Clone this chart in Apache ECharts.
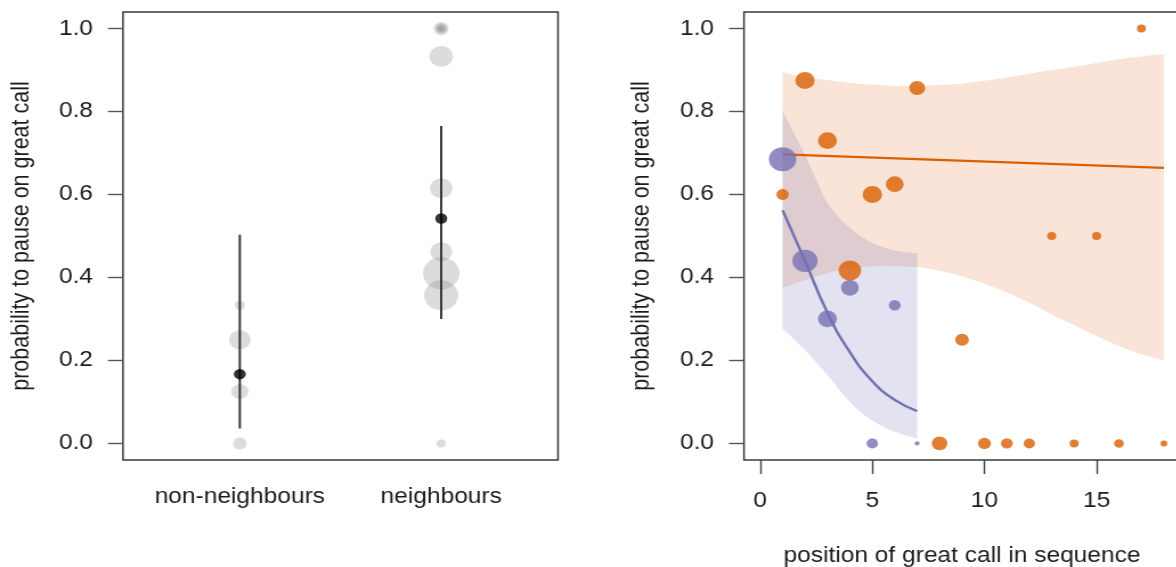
<!DOCTYPE html>
<html>
<head>
<meta charset="utf-8">
<script src="https://cdn.jsdelivr.net/npm/echarts@6/dist/echarts.min.js"></script>
<style>
  html, body { margin: 0; padding: 0; background: #fff; overflow: hidden; }
  #chart { width: 1032px; height: 567px; transform: scaleX(1.14); transform-origin: 0 0; }
</style>
</head>
<body>
<div id="chart"></div>
<script>
// Figure is drawn slightly wide: everything is stretched horizontally by this factor.
const SX = 1.14;

// ---- Left panel: pause probability per individual, by group ----
const groups = ['non-neighbours', 'neighbours'];
const propNon = [0, 0.125, 0.25, 0.333];
const callsNon = [16, 25, 40, 9];
const propNei = [1, 1, 1, 1, 0.933, 0.615, 0.462, 0.41, 0.357, 0];
const callsNei = [19, 11, 5, 3, 48, 44, 40, 114, 100, 7];
const groupMean = [0.167, 0.542];
const groupLower = [0.036, 0.30];
const groupUpper = [0.503, 0.765];

// ---- Right panel: pause probability by position in sequence ----
const posPurple = [1, 2, 3, 4, 5, 6, 7];
const propPurple = [0.685, 0.44, 0.30, 0.375, 0, 0.333, 0];
const callsPurple = [64, 54, 31, 27, 11, 12, 2];

const posOrange = [1, 2, 3, 4, 5, 6, 7, 8, 9, 10, 11, 12, 13, 14, 15, 16, 17, 18];
const propOrange = [0.6, 0.875, 0.73, 0.417, 0.6, 0.625, 0.857, 0, 0.25, 0, 0, 0, 0.5, 0, 0.5, 0, 1, 0];
const callsOrange = [13, 32, 31, 44, 32, 27, 22, 21, 16, 14, 12, 11, 7, 7, 7, 8, 7, 4];

// model fits with 95% bands
const fitPosPurple = [1, 2, 3, 4, 5, 6, 7];
const fitPurple = [0.562, 0.44, 0.315, 0.22, 0.15, 0.105, 0.078];
const bandPurpleHi = [0.80, 0.695, 0.58, 0.52, 0.483, 0.465, 0.458];
const bandPurpleLo = [0.277, 0.225, 0.165, 0.1, 0.055, 0.028, 0.012];

const fitPosOrange = [1, 18];
const fitOrange = [0.697, 0.664];
const bandPosOrange = [1, 2, 3, 4, 5, 6, 7, 8, 9, 10, 11, 12, 13, 14, 15, 16, 17, 18];
const bandOrangeHi = [0.895, 0.882, 0.876, 0.869, 0.865, 0.862, 0.862, 0.864, 0.867, 0.874, 0.882, 0.891, 0.9, 0.908, 0.917, 0.926, 0.933, 0.939];
const bandOrangeLo = [0.375, 0.394, 0.411, 0.423, 0.427, 0.427, 0.425, 0.416, 0.403, 0.385, 0.364, 0.339, 0.311, 0.285, 0.259, 0.235, 0.215, 0.2];

const yTicks = [0, 0.2, 0.4, 0.6, 0.8, 1.0];
const xTicksRight = [0, 5, 10, 15];
const yTitle = 'probability to pause on great call';
const xTitleRight = 'position of great call in sequence';

const ORANGE = '#d95f02';
const PURPLE = '#7570b3';
const FONT = 'Liberation Sans, Arial, Helvetica, sans-serif';
const TEXT = '#1c1c1c';
const FS = 21.5;

const h = v => v / SX;               // horizontal pixel length in chart units
const dotSize = val => 3 * Math.sqrt(val[2]);

function yAxisFor(gridIndex) {
  return {
    type: 'value', gridIndex, min: -0.04, max: 1.04,
    axisLine: { show: false, onZero: false },
    splitLine: { show: false },
    axisTick: { show: true, customValues: yTicks, length: h(15), lineStyle: { color: '#555', width: 1.4 } },
    axisLabel: { customValues: yTicks, formatter: v => v.toFixed(1), margin: h(30),
      fontSize: FS, color: TEXT, fontFamily: FONT },
    name: yTitle, nameLocation: 'middle', nameGap: h(89), nameRotate: 90,
    nameTextStyle: { fontSize: FS, color: TEXT, fontFamily: FONT }
  };
}

function pointsOf(xs, ys, ns) { return ys.map((y, i) => [xs[i], y, ns[i]]); }

// Smooth curve through pixel points as cubic bezier commands (Catmull-Rom).
function curveCmds(pts) {
  let d = '';
  for (let i = 0; i < pts.length - 1; i++) {
    const p0 = pts[Math.max(i - 1, 0)], p1 = pts[i], p2 = pts[i + 1], p3 = pts[Math.min(i + 2, pts.length - 1)];
    const c1 = [p1[0] + (p2[0] - p0[0]) / 6, p1[1] + (p2[1] - p0[1]) / 6];
    const c2 = [p2[0] - (p3[0] - p1[0]) / 6, p2[1] - (p3[1] - p1[1]) / 6];
    d += ` C${c1[0]},${c1[1]} ${c2[0]},${c2[1]} ${p2[0]},${p2[1]}`;
  }
  return d;
}

function bandSeries(xs, hi, lo, fill, xi, z) {
  return {
    type: 'custom', xAxisIndex: xi, yAxisIndex: xi, z, silent: true,
    data: [[xs[0], hi[0]]],
    renderItem: (params, api) => {
      const up = hi.map((v, i) => api.coord([xs[i], v]));
      const dn = lo.map((v, i) => api.coord([xs[i], v])).reverse();
      const d = `M${up[0][0]},${up[0][1]}` + curveCmds(up) +
        ` L${dn[0][0]},${dn[0][1]}` + curveCmds(dn) + ' Z';
      return { type: 'path', shape: { pathData: d }, style: { fill } };
    }
  };
}

const chart = echarts.init(document.getElementById('chart'), null, { renderer: 'canvas' });

const gridBase = { top: 12, height: 448, show: true, borderColor: '#3a3a3a', borderWidth: 1.5,
  backgroundColor: 'transparent', containLabel: false, outerBoundsMode: 'none' };

chart.setOption({
  animation: false,
  backgroundColor: '#fff',
  grid: [
    Object.assign({ left: h(123), width: h(435) }, gridBase),
    Object.assign({ left: h(744), width: h(436) }, gridBase)
  ],
  xAxis: [
    {
      type: 'value', gridIndex: 0, min: 0.42, max: 2.58,
      axisLine: { show: false, onZero: false }, axisTick: { show: false }, splitLine: { show: false },
      axisLabel: { customValues: [1, 2], formatter: v => groups[Math.round(v) - 1], margin: 26,
        fontSize: FS, color: TEXT, fontFamily: FONT }
    },
    {
      type: 'value', gridIndex: 1, min: -0.72, max: 18.72,
      axisLine: { show: false, onZero: false }, splitLine: { show: false },
      axisTick: { show: true, customValues: xTicksRight, length: 14, lineStyle: { color: '#444', width: h(1.6) } },
      axisLabel: { customValues: xTicksRight, formatter: v => String(v), margin: 30,
        fontSize: FS, color: TEXT, fontFamily: FONT },
      name: xTitleRight, nameLocation: 'middle', nameGap: 85,
      nameTextStyle: { fontSize: FS, color: TEXT, fontFamily: FONT }
    }
  ],
  yAxis: [yAxisFor(0), yAxisFor(1)],
  series: [
    // individual proportions, grey, semi-transparent
    {
      type: 'scatter', xAxisIndex: 0, yAxisIndex: 0, z: 2,
      symbol: 'circle', symbolSize: dotSize,
      itemStyle: { color: 'rgba(135,135,135,0.36)' },
      data: pointsOf(propNon.map(() => 1), propNon, callsNon)
        .concat(pointsOf(propNei.map(() => 2), propNei, callsNei))
    },
    // 95% intervals of the group estimates
    {
      type: 'custom', xAxisIndex: 0, yAxisIndex: 0, z: 3,
      data: groupMean.map((m, i) => [i + 1, groupLower[i], groupUpper[i]]),
      renderItem: (params, api) => {
        const a = api.coord([api.value(0), api.value(1)]);
        const b = api.coord([api.value(0), api.value(2)]);
        return { type: 'line', shape: { x1: a[0], y1: a[1], x2: b[0], y2: b[1] },
          style: { stroke: '#333', lineWidth: h(2.2) } };
      }
    },
    // group estimates
    {
      type: 'scatter', xAxisIndex: 0, yAxisIndex: 0, z: 4,
      symbol: 'circle', symbolSize: 10.5,
      itemStyle: { color: '#000' },
      data: groupMean.map((m, i) => [i + 1, m])
    },

    // confidence bands
    bandSeries(bandPosOrange, bandOrangeHi, bandOrangeLo, 'rgba(217,95,20,0.17)', 1, 1),
    bandSeries(fitPosPurple, bandPurpleHi, bandPurpleLo, 'rgba(117,112,179,0.2)', 1, 1),

    // fitted curves
    {
      type: 'line', xAxisIndex: 1, yAxisIndex: 1, z: 2, smooth: true, symbol: 'none',
      lineStyle: { color: ORANGE, width: 2.3 },
      data: fitPosOrange.map((x, i) => [x, fitOrange[i]])
    },
    {
      type: 'line', xAxisIndex: 1, yAxisIndex: 1, z: 2, smooth: true, symbol: 'none',
      lineStyle: { color: PURPLE, width: 2.4 },
      data: fitPosPurple.map((x, i) => [x, fitPurple[i]])
    },

    // observed proportions
    {
      type: 'scatter', xAxisIndex: 1, yAxisIndex: 1, z: 3,
      symbol: 'circle', symbolSize: dotSize,
      itemStyle: { color: ORANGE },
      data: pointsOf(posOrange, propOrange, callsOrange)
    },
    {
      type: 'scatter', xAxisIndex: 1, yAxisIndex: 1, z: 3,
      symbol: 'circle', symbolSize: dotSize,
      itemStyle: { color: PURPLE },
      data: pointsOf(posPurple, propPurple, callsPurple)
    }
  ]
});
</script>
</body>
</html>
